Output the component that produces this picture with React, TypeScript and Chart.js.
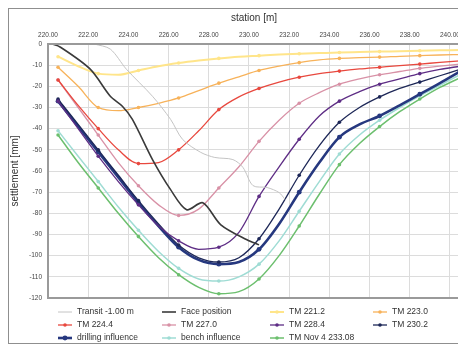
import React, { useEffect, useRef } from "react";
import { Chart, registerables } from "chart.js";

Chart.register(...registerables);

// ---- data ----
const stations = [220.5, 221.5, 222.5, 223.5, 224.5, 225.5, 226.5, 227.5, 228.5, 229.5, 230.5, 231.5, 232.5, 233.5, 234.5, 235.5, 236.5, 237.5, 238.5, 239.5, 240.5];

const transitX = [222.3, 223.1, 223.9, 225.2, 226.1, 226.7, 227.6, 228.3, 229.2, 229.7, 230.2, 230.9, 231.5, 231.8];
const transitY = [0, -2.4, -11.9, -24.7, -35.6, -45.1, -51.2, -53.6, -54.6, -58.3, -66.9, -67.8, -70.2, -73.5];

const faceX = [220.2, 220.6, 222.1, 223.1, 223.7, 224.2, 225.2, 226.1, 226.9, 227.7, 228.6, 229.9, 230.5];
const faceY = [0, -1.4, -11.9, -24.7, -29.4, -35.6, -54.6, -68.8, -78.3, -75, -85.4, -92.5, -94.9];

const tm2212 = [-6, -10.5, -14, -14.5, -12.5, -10.5, -9, -7.8, -6.8, -6, -5.5, -5, -4.6, -4.3, -4, -3.8, -3.6, -3.4, -3.2, -3, -2.8];
const tm2230 = [-11, -20, -30, -31.5, -30, -28, -25.5, -22, -18.5, -15.5, -12.5, -10.5, -8.8, -7.5, -6.8, -6.4, -6.2, -5.8, -5.5, -5.2, -5];
const tm2244 = [-17, -29, -40, -50, -56.5, -56, -50, -41, -31, -25, -21, -18, -15.7, -14, -12.8, -11.8, -11, -10.2, -9.5, -8.7, -8];
const tm2270 = [-17, -30, -43, -56, -67, -76, -81, -78, -68, -58, -46, -36, -28, -23, -19, -16.5, -14.5, -13, -11.5, -10.5, -9.5];
const tm2284 = [-27, -40, -53, -65, -76, -86, -93, -97, -96, -89, -72, -58, -45, -34, -27, -22.5, -19, -16.5, -14, -12, -10.5];
const tm2302 = [-26, -38, -50, -62, -74, -85, -95, -101, -103, -101, -92, -78, -62, -48, -37, -30, -25, -21, -18, -15, -12];
const drilling = [-27, -39, -51, -63, -75, -86, -96, -102, -104, -103, -97, -85, -70, -56, -44, -38, -34, -29, -23.7, -18.5, -13];
const bench = [-41, -53, -65, -77, -88, -98, -106, -111, -112, -110, -104, -93, -79, -65, -52, -43, -36, -30, -24.5, -19.5, -14.5];
const tmNov = [-43, -56, -68, -80, -91, -101, -109, -115, -118, -117, -111, -100, -86, -71, -57, -47, -39, -32, -26, -20.5, -16];

const xTicks = [220, 222, 224, 226, 228, 230, 232, 234, 236, 238, 240];
const yTicks = [0, -10, -20, -30, -40, -50, -60, -70, -80, -90, -100, -110, -120];

const seriesLabels = [
  "Transit -1.00 m",
  "Face position",
  "TM 221.2",
  "TM 223.0",
  "TM 224.4",
  "TM 227.0",
  "TM 228.4",
  "TM 230.2",
  "drilling influence",
  "bench influence",
  "TM Nov 4 233.08",
];

const FONT = '"Liberation Sans", Arial, sans-serif';

function pts(xs: number[], ys: number[]) {
  return xs.map((x, i) => ({ x, y: ys[i] }));
}

const markerRadius = (r: number) => (ctx: any) => (ctx.dataIndex % 2 === 0 ? r : 0);

const gridLegend = {
  id: "gridLegend",
  afterDraw(chart: any) {
    const ctx = chart.ctx;
    const cols = [49, 153, 261, 364];
    const rows = [303, 316, 329];
    chart.data.datasets.forEach((ds: any, i: number) => {
      const x = cols[i % 4];
      const y = rows[Math.floor(i / 4)];
      ctx.save();
      ctx.strokeStyle = ds.borderColor;
      ctx.lineWidth = ds.borderWidth;
      ctx.beginPath();
      ctx.moveTo(x, y);
      ctx.lineTo(x + 14, y);
      ctx.stroke();
      if (ds.legendMarker) {
        ctx.fillStyle = ds.borderColor;
        ctx.beginPath();
        ctx.arc(x + 7, y, ds.legendMarker, 0, Math.PI * 2);
        ctx.fill();
      }
      ctx.fillStyle = "#333";
      ctx.font = `8.5px ${FONT}`;
      ctx.textBaseline = "middle";
      ctx.textAlign = "left";
      ctx.fillText(ds.label, x + 19, y);
      ctx.restore();
    });
  },
};

const plotFrame = {
  id: "plotFrame",
  afterDraw(chart: any) {
    const { ctx, chartArea: a } = chart;
    ctx.save();
    ctx.strokeStyle = "#9a9a9a";
    ctx.lineWidth = 2;
    ctx.strokeRect(a.left, a.top, a.right - a.left, a.bottom - a.top);
    ctx.restore();
  },
};

export default function App() {
  const ref = useRef<HTMLCanvasElement | null>(null);

  useEffect(() => {
    if (!ref.current) return;
    const tmStyle = (color: string, width = 1.3, r = 1.8) => ({
      borderColor: color,
      backgroundColor: color,
      borderWidth: width,
      pointRadius: markerRadius(r),
      pointBorderWidth: 0,
      legendMarker: r,
      cubicInterpolationMode: "monotone" as const,
    });
    const tm = (label: string, ys: number[], style: any) => ({
      label,
      data: pts(stations, ys),
      ...style,
    });

    const chart = new Chart(ref.current, {
      type: "line",
      data: {
        datasets: [
          {
            label: seriesLabels[0],
            data: pts(transitX, transitY),
            borderColor: "#c4c4c4",
            backgroundColor: "#c4c4c4",
            borderWidth: 1,
            pointRadius: 0,
            tension: 0.3,
          } as any,
          {
            label: seriesLabels[1],
            data: pts(faceX, faceY),
            borderColor: "#3a3a3a",
            backgroundColor: "#3a3a3a",
            borderWidth: 1.6,
            pointRadius: 0,
            tension: 0.3,
          },
          tm(seriesLabels[2], tm2212, tmStyle("#ffe58a", 2)),
          tm(seriesLabels[3], tm2230, tmStyle("#f7b25a")),
          tm(seriesLabels[4], tm2244, tmStyle("#e8483e")),
          tm(seriesLabels[5], tm2270, tmStyle("#d891a6")),
          tm(seriesLabels[6], tm2284, tmStyle("#5e2d85")),
          tm(seriesLabels[7], tm2302, tmStyle("#1d2757")),
          tm(seriesLabels[8], drilling, tmStyle("#26387f", 2.6, 2.4)),
          tm(seriesLabels[9], bench, tmStyle("#9fdcd4", 1.5)),
          tm(seriesLabels[10], tmNov, tmStyle("#6cbf6e", 1.5)),
        ],
      },
      options: {
        animation: false,
        responsive: false,
        devicePixelRatio: 1,
        layout: { padding: { left: 0, top: 0, right: 5, bottom: 45 } },
        plugins: { legend: { display: false }, tooltip: { enabled: false } },
        scales: {
          x: {
            type: "linear",
            position: "top",
            min: 220,
            max: 240.5,
            afterBuildTicks: (axis: any) => {
              axis.ticks = xTicks.map((v) => ({ value: v }));
            },
            afterFit: (axis: any) => {
              axis.height = 35;
            },
            ticks: {
              callback: (v: any) => Number(v).toFixed(2),
              font: { family: FONT, size: 6.5 },
              color: "#444",
              padding: 5,
              maxRotation: 0,
              autoSkip: false,
            },
            grid: { color: "#dcdcdc", lineWidth: 1, drawTicks: false },
            border: { display: false },
            title: {
              display: true,
              text: "station [m]",
              font: { family: FONT, size: 10 },
              color: "#333",
              padding: { top: 3, bottom: 0 },
            },
          },
          y: {
            type: "linear",
            min: -120,
            max: 0,
            afterBuildTicks: (axis: any) => {
              axis.ticks = yTicks.map((v) => ({ value: v }));
            },
            afterFit: (axis: any) => {
              axis.width = 39;
            },
            ticks: {
              font: { family: FONT, size: 6.5 },
              color: "#444",
              padding: 6,
              autoSkip: false,
            },
            grid: { color: "#dcdcdc", lineWidth: 1, drawTicks: false },
            border: { display: false },
            title: {
              display: true,
              text: "settlement [mm]",
              font: { family: FONT, size: 10 },
              color: "#333",
              padding: { top: 0, bottom: 0 },
            },
          },
        },
      } as any,
      plugins: [plotFrame, gridLegend],
    });
    return () => chart.destroy();
  }, []);

  return (
    <div
      style={{
        position: "relative",
        width: 458,
        height: 336,
        boxSizing: "border-box",
        border: "1px solid #8f8f8f",
        background: "#fff",
      }}
    >
      <canvas ref={ref} width={456} height={334} style={{ display: "block", width: 456, height: 334 }} />
    </div>
  );
}
